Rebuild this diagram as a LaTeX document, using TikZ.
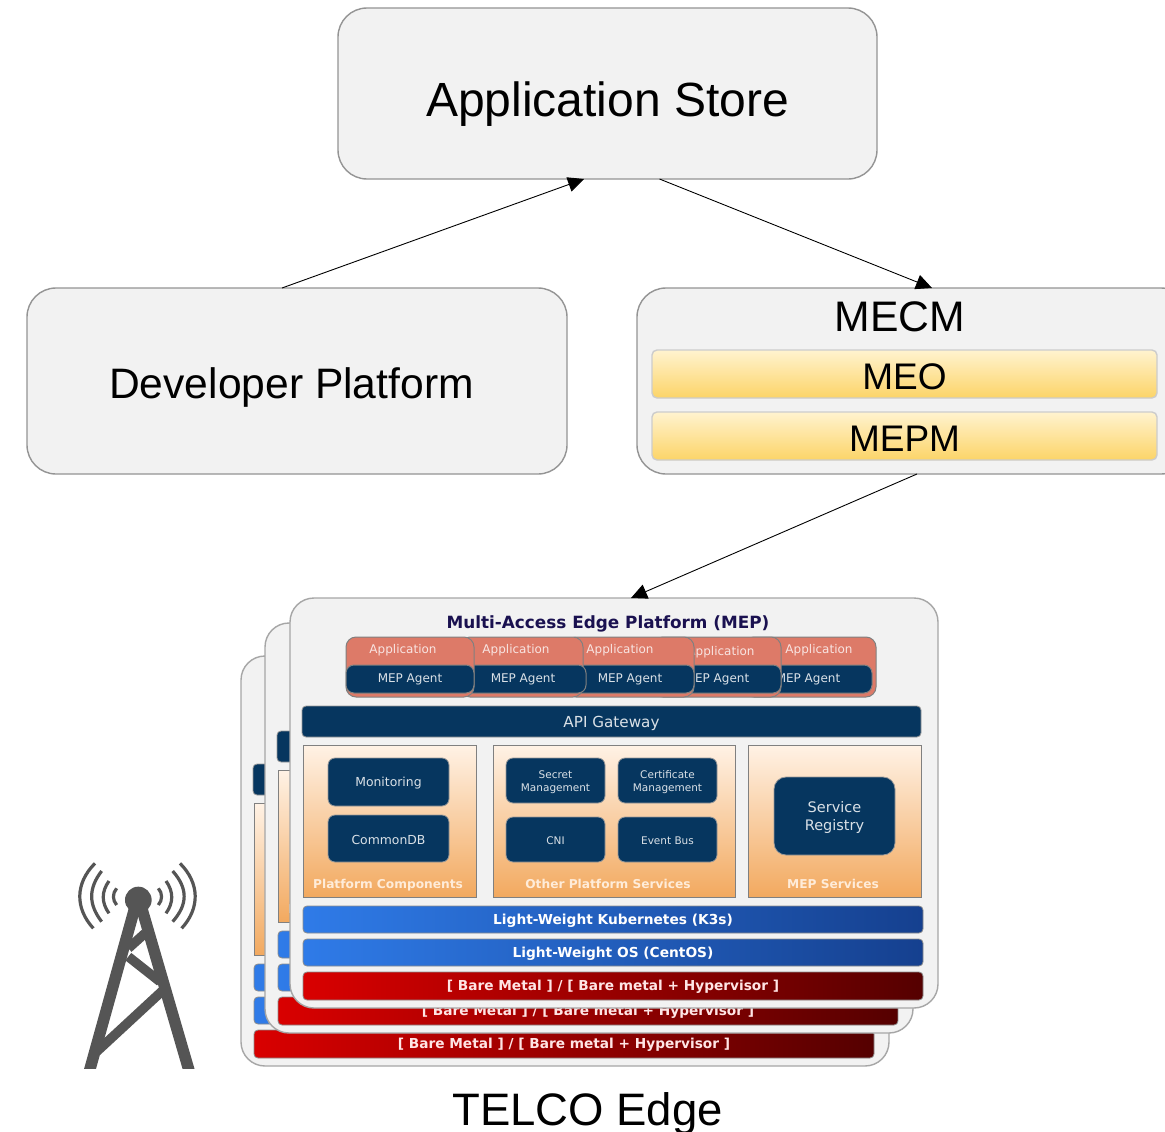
\documentclass[tikz,border=0pt]{standalone}
\usepackage{fontspec}
\setmainfont{Liberation Sans}
\newfontfamily\djv{DejaVu Sans}
\usetikzlibrary{arrows.meta,calc}
\definecolor{navy}{HTML}{06365F}
\definecolor{panelfill}{HTML}{F2F2F2}
\definecolor{salmon}{HTML}{DD7A68}
\definecolor{towergrey}{HTML}{555555}
\definecolor{yellowtop}{HTML}{FFF3CF}
\definecolor{yellowbot}{HTML}{FCD468}
\newcommand\fsz[2]{\fontsize{#1}{#2}\selectfont}
\def\bxpad{0pt}
% name, x1, y1, x2, y2, style, text
\newcommand\bx[7]{%
  \pgfmathsetmacro\bxw{#4-#2}\pgfmathsetmacro\bxh{#5-#3}%
  \node[#6,minimum width=\bxw pt,minimum height=\bxh pt,inner sep=0pt,outer sep=0pt]
    (#1) at ({(#2+#4)/2},{(#3+#5)/2}) {\parbox{\bxw pt}{\vspace*{\bxpad}\centering #7}};}
\tikzset{
  bigpanel/.style={draw=black!42,line width=1.4pt,fill=panelfill,rounded corners=29pt},
  mepanel/.style={draw=black!35,line width=1.4pt,fill=panelfill,rounded corners=24pt},
  yellowbar/.style={draw=black!20,line width=1.4pt,top color=yellowtop,bottom color=yellowbot,rounded corners=5pt},
  appbox/.style={draw=black!50,line width=1pt,fill=salmon,rounded corners=10pt},
  agentbox/.style={draw=black!50,line width=1pt,fill=navy,rounded corners=8pt,text=white!85!navy,font=\djv\fsz{12}{15}},
  applabel/.style={text=white!80!salmon,font=\djv\fsz{12}{15},inner sep=0pt,anchor=base},
  navybox/.style={draw=black!40,line width=.8pt,fill=navy,rounded corners=7pt,text=white!85!navy,font=\djv\fsz{12.4}{17}},
  smallbox/.style={navybox,font=\djv\fsz{10.5}{13}},
  regbox/.style={navybox,rounded corners=12pt,font=\djv\fsz{14.5}{18}},
  gateway/.style={navybox,rounded corners=4pt,font=\djv\fsz{15.2}{17}},
  orangepanel/.style={draw=black!50,line width=.8pt,top color=orange!10!white,bottom color={rgb,255:red,242;green,169;blue,95}},
  panellabel/.style={text=white!85!orange,font=\djv\bfseries\fsz{12.2}{15},inner sep=0pt,anchor=base},
  bluebar/.style={draw=black!45,line width=.8pt,rounded corners=4pt,left color={rgb,255:red,47;green,123;blue,232},right color={rgb,255:red,21;green,64;blue,143},text=white,font=\djv\bfseries\fsz{13.75}{17}},
  redbar/.style={draw=black!45,line width=.8pt,rounded corners=4pt,left color={rgb,255:red,217;green,0;blue,0},right color={rgb,255:red,85;green,0;blue,0},text=white!90!red,font=\djv\bfseries\fsz{13.7}{17}},
  flowarrow/.style={draw=black,line width=.9pt,-{Triangle[length=16pt,width=15pt]}},
  wave/.style={draw=towergrey,line width=3.2pt},
  legline/.style={draw=towergrey,line width=11.5pt},
  braceline/.style={draw=towergrey,line width=9.5pt},
}
\newcommand\appcard[6]{% prefix, x1, x2, agent right, label x, label baseline y
  \bx{#1}{#2}{637}{#3}{697}{appbox}{}
  \node[applabel] (#1l) at (#5,#6) {Application};
  \bx{#1a}{#2}{665}{#4}{693}{agentbox}{MEP Agent}}
\newcommand\mepstack[3]{%
\begin{scope}[shift={(#2,#3)}]
  \def\bxpad{0pt}
  \bx{#1panel}{290}{598}{938}{1008}{mepanel}{}
  \node[text={rgb,255:red,26;green,17;blue,80},font=\djv\bfseries\fsz{16.85}{20},inner sep=0pt,anchor=base] (#1title) at (608,628.3) {Multi-Access Edge Platform (MEP)};
  \def\bxpad{1.5pt}
  \appcard{#1e}{744}{876}{872}{819}{653.5}
  \appcard{#1d}{653}{781}{781}{721}{655.5}
  \appcard{#1c}{566}{694}{694}{620}{653.5}
  \appcard{#1b}{460}{583}{586}{516}{653.5}
  \appcard{#1f}{346}{474}{474}{403}{653.5}
  \def\bxpad{3pt}
  \bx{#1api}{302}{706}{921}{737}{gateway}{API Gateway}
  \bx{#1pc}{303}{745}{476}{897}{orangepanel}{}
  \bx{#1op}{493}{745}{735}{897}{orangepanel}{}
  \bx{#1ms}{748}{745}{921}{897}{orangepanel}{}
  \bx{#1mon}{328}{758}{449}{806}{navybox}{Monitoring}
  \bx{#1cdb}{328}{815}{449}{862}{navybox}{CommonDB}
  \bx{#1sec}{506}{758}{605}{803}{smallbox}{Secret\\Management}
  \bx{#1cert}{618}{758}{717}{803}{smallbox}{Certificate\\Management}
  \bx{#1cni}{506}{817}{605}{862}{smallbox}{CNI}
  \bx{#1bus}{618}{817}{717}{862}{smallbox}{Event Bus}
  \bx{#1reg}{774}{777}{895}{855}{regbox}{Service\\Registry}
  \node[panellabel] (#1lpc) at (388,888.5) {Platform Components};
  \node[panellabel] (#1lop) at (608,888.5) {Other Platform Services};
  \node[panellabel] (#1lms) at (833,888.5) {MEP Services};
  \bx{#1k}{303}{906}{923}{933}{bluebar}{Light-Weight Kubernetes (K3s)}
  \bx{#1os}{303}{939}{923}{966}{bluebar}{Light-Weight OS (CentOS)}
  \def\bxpad{1pt}
  \bx{#1hw}{303}{972}{923}{1000}{redbar}{[ Bare Metal ] / [ Bare metal + Hypervisor ]}
\end{scope}}
\begin{document}
\begin{tikzpicture}[x=1pt,y=-1pt]
\useasboundingbox (0,0) rectangle (1165,1132);
\clip (0,0) rectangle (1165,1132);
\fill[white] (0,0) rectangle (1165,1132);
\bx{store}{338}{8}{877}{179}{bigpanel}{}
\node[font=\fsz{48}{52},inner sep=0pt,anchor=base] (storet) at (607.5,117) {Application Store};
\bx{dev}{27}{288}{567}{474}{bigpanel}{}
\node[font=\fsz{42.6}{48},inner sep=0pt,anchor=base] (devt) at (291.5,398) {Developer Platform};
\bx{mecm}{637}{288}{1190}{474}{bigpanel}{}
\node[font=\fsz{42.7}{48},inner sep=0pt,anchor=base] (mecmt) at (900,331) {MECM};
\def\bxpad{5pt}
\bx{meo}{652}{350}{1157}{398}{yellowbar,font=\fsz{37}{42}}{MEO}
\bx{mepm}{652}{412}{1157}{460}{yellowbar,font=\fsz{37}{42}}{MEPM}
\mepstack{back}{-49}{58}
\mepstack{mid}{-25}{25}
\mepstack{front}{0}{0}
\draw[flowarrow] ($(dev.north)+(-15,0)$) -- ($(store.south)+(-23.5,0)$);
\draw[flowarrow] ($(store.south)+(52,0)$) -- ($(mecm.north)+(18.5,0)$);
\draw[flowarrow] ($(mecm.south)+(3.5,0)$) -- ($(frontpanel.north)+(17,0)$);
\node[font=\fsz{45.5}{50},inner sep=0pt,anchor=base] (telco) at (587.5,1125) {TELCO Edge};
% tower
\begin{scope}[shift={(60,850)},x=0.3333pt,y=-0.3333pt]
  \fill[towergrey] (235,150) circle (40);
  \begin{scope}
    \clip (0,100) rectangle (500,655);
    \draw[legline] (231,150) -- (85,675);
    \draw[legline] (238,150) -- (391,675);
  \end{scope}
  \draw[braceline] (255,250) -- (205,295);
  \draw[braceline] (205,320) -- (300,395);
  \draw[braceline] (310,420) -- (110,605);
  \draw[wave] (295,115) .. controls (308,130) and (308,150) .. (295,165);
  \draw[wave] (318,93) .. controls (341,125) and (341,158) .. (318,190);
  \draw[wave] (338,63) .. controls (384,115) and (384,163) .. (338,215);
  \draw[wave] (360,40) .. controls (420,100) and (420,175) .. (365,235);
  \draw[wave] (170,115) .. controls (157,130) and (157,150) .. (170,165);
  \draw[wave] (147,93) .. controls (124,125) and (124,158) .. (147,190);
  \draw[wave] (125,63) .. controls (85,115) and (85,163) .. (125,215);
  \draw[wave] (105,40) .. controls (45,100) and (45,175) .. (100,235);
\end{scope}
\end{tikzpicture}
\end{document}
